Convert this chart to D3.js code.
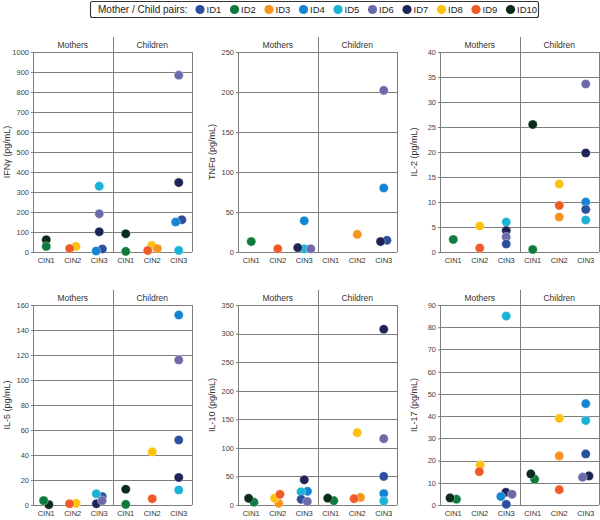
<!DOCTYPE html>
<html>
<head>
<meta charset="utf-8">
<script src="https://cdn.jsdelivr.net/npm/d3@7"></script>
<style>
  body { margin: 0; background: #fff; }
  text { font-family: "Liberation Sans", Arial, sans-serif; }
</style>
</head>
<body>
<div id="chart"></div>
<script>
// --- data ---
var ids = ["ID1", "ID2", "ID3", "ID4", "ID5", "ID6", "ID7", "ID8", "ID9", "ID10"];
var idColors = ["#2b4f9e", "#0e7a3d", "#f7941d", "#1485d2", "#1bb3d5", "#6c6aa8", "#1e2457", "#fdc20f", "#ef5a26", "#0b2b1b"];
var groups = ["Mothers", "Children"];
var stages = ["CIN1", "CIN2", "CIN3"];

// [id, group, stage, value]; within a stage the order only decides who dodges first
var ifng = [
  ["ID10", "Mothers", "CIN1", 61], ["ID2", "Mothers", "CIN1", 28],
  ["ID8", "Mothers", "CIN2", 28], ["ID9", "Mothers", "CIN2", 17],
  ["ID5", "Mothers", "CIN3", 329], ["ID6", "Mothers", "CIN3", 191], ["ID7", "Mothers", "CIN3", 101],
  ["ID1", "Mothers", "CIN3", 15], ["ID4", "Mothers", "CIN3", 5],
  ["ID10", "Children", "CIN1", 91], ["ID2", "Children", "CIN1", 3],
  ["ID8", "Children", "CIN2", 33], ["ID9", "Children", "CIN2", 7], ["ID3", "Children", "CIN2", 17],
  ["ID6", "Children", "CIN3", 884], ["ID7", "Children", "CIN3", 347], ["ID1", "Children", "CIN3", 161],
  ["ID4", "Children", "CIN3", 150], ["ID5", "Children", "CIN3", 8]
];
var tnfa = [
  ["ID2", "Mothers", "CIN1", 13],
  ["ID9", "Mothers", "CIN2", 4],
  ["ID4", "Mothers", "CIN3", 39], ["ID5", "Mothers", "CIN3", 4], ["ID7", "Mothers", "CIN3", 5.4], ["ID6", "Mothers", "CIN3", 4],
  ["ID3", "Children", "CIN2", 22],
  ["ID6", "Children", "CIN3", 202], ["ID4", "Children", "CIN3", 80], ["ID1", "Children", "CIN3", 14.6], ["ID7", "Children", "CIN3", 13]
];
var il2 = [
  ["ID2", "Mothers", "CIN1", 2.5],
  ["ID8", "Mothers", "CIN2", 5.2], ["ID9", "Mothers", "CIN2", 0.8],
  ["ID5", "Mothers", "CIN3", 6.0], ["ID7", "Mothers", "CIN3", 4.3], ["ID6", "Mothers", "CIN3", 3.0], ["ID1", "Mothers", "CIN3", 1.6],
  ["ID10", "Children", "CIN1", 25.5], ["ID2", "Children", "CIN1", 0.5],
  ["ID8", "Children", "CIN2", 13.6], ["ID9", "Children", "CIN2", 9.3], ["ID3", "Children", "CIN2", 7.0],
  ["ID6", "Children", "CIN3", 33.6], ["ID7", "Children", "CIN3", 19.8], ["ID4", "Children", "CIN3", 10.0],
  ["ID1", "Children", "CIN3", 8.5], ["ID5", "Children", "CIN3", 6.4]
];
var il5 = [
  ["ID10", "Mothers", "CIN1", 0.3], ["ID2", "Mothers", "CIN1", 3.5],
  ["ID8", "Mothers", "CIN2", 1.3], ["ID9", "Mothers", "CIN2", 1.0],
  ["ID7", "Mothers", "CIN3", 1.0], ["ID1", "Mothers", "CIN3", 6.7], ["ID5", "Mothers", "CIN3", 9.0], ["ID6", "Mothers", "CIN3", 3.5],
  ["ID10", "Children", "CIN1", 12.6], ["ID2", "Children", "CIN1", 0.5],
  ["ID8", "Children", "CIN2", 42.5], ["ID9", "Children", "CIN2", 5],
  ["ID4", "Children", "CIN3", 152], ["ID6", "Children", "CIN3", 116], ["ID1", "Children", "CIN3", 52],
  ["ID7", "Children", "CIN3", 22], ["ID5", "Children", "CIN3", 12]
];
var il10 = [
  ["ID2", "Mothers", "CIN1", 5], ["ID10", "Mothers", "CIN1", 11.6],
  ["ID3", "Mothers", "CIN2", 3], ["ID8", "Mothers", "CIN2", 12], ["ID9", "Mothers", "CIN2", 18.6],
  ["ID7", "Mothers", "CIN3", 44], ["ID4", "Mothers", "CIN3", 24], ["ID5", "Mothers", "CIN3", 23],
  ["ID1", "Mothers", "CIN3", 10], ["ID6", "Mothers", "CIN3", 6],
  ["ID2", "Children", "CIN1", 7.5], ["ID10", "Children", "CIN1", 12],
  ["ID8", "Children", "CIN2", 126.5], ["ID3", "Children", "CIN2", 13.3], ["ID9", "Children", "CIN2", 11],
  ["ID7", "Children", "CIN3", 307.6], ["ID6", "Children", "CIN3", 116], ["ID1", "Children", "CIN3", 50],
  ["ID4", "Children", "CIN3", 20], ["ID5", "Children", "CIN3", 7]
];
var il17 = [
  ["ID2", "Mothers", "CIN1", 2.6], ["ID10", "Mothers", "CIN1", 3.2],
  ["ID8", "Mothers", "CIN2", 17.9], ["ID9", "Mothers", "CIN2", 15],
  ["ID5", "Mothers", "CIN3", 85], ["ID7", "Mothers", "CIN3", 5.7], ["ID4", "Mothers", "CIN3", 3.8],
  ["ID6", "Mothers", "CIN3", 4.8], ["ID1", "Mothers", "CIN3", 0.3],
  ["ID2", "Children", "CIN1", 11.6], ["ID10", "Children", "CIN1", 14],
  ["ID8", "Children", "CIN2", 39], ["ID3", "Children", "CIN2", 22.1], ["ID9", "Children", "CIN2", 6.9],
  ["ID4", "Children", "CIN3", 45.6], ["ID5", "Children", "CIN3", 38], ["ID1", "Children", "CIN3", 23],
  ["ID7", "Children", "CIN3", 13.1], ["ID6", "Children", "CIN3", 12.5]
];

var ifngTicks = [0, 100, 200, 300, 400, 500, 600, 700, 800, 900, 1000];
var tnfaTicks = [0, 50, 100, 150, 200, 250];
var il2Ticks = [0, 5, 10, 15, 20, 25, 30, 35, 40];
var il5Ticks = [0, 20, 40, 60, 80, 100, 120, 140, 160];
var il10Ticks = [0, 50, 100, 150, 200, 250, 300, 350];
var il17Ticks = [0, 10, 20, 30, 40, 50, 60, 70, 80, 90];

var panels = [
  { label: "IFNγ (pg/mL)", rows: ifng, ticks: ifngTicks, col: 0, row: 0 },
  { label: "TNFα (pg/mL)", rows: tnfa, ticks: tnfaTicks, col: 1, row: 0 },
  { label: "IL-2 (pg/mL)", rows: il2, ticks: il2Ticks, col: 2, row: 0 },
  { label: "IL-5 (pg/mL)", rows: il5, ticks: il5Ticks, col: 0, row: 1 },
  { label: "IL-10 (pg/mL)", rows: il10, ticks: il10Ticks, col: 1, row: 1 },
  { label: "IL-17 (pg/mL)", rows: il17, ticks: il17Ticks, col: 2, row: 1 }
];

// --- layout ---
var width = 600, height = 520;
var colLeft = [33, 238, 440];
var plotW = 159;
var rowTop = [52, 305];
var plotH = 200;
var headerH = 15;
var dotR = 4.6;
var lineColor = "#7d7d7d";

var color = d3.scaleOrdinal(ids, idColors);

var svg = d3.select("#chart").append("svg")
  .attr("width", width)
  .attr("height", height);

svg.append("rect").attr("width", width).attr("height", height).attr("fill", "#fff");

// spread overlapping dots of one stage sideways (simple beeswarm)
function dodge(pts) {
  var minD = 6.5;
  var placed = [];
  pts.forEach(function (p) {
    var sum = d3.sum(placed, function (q) { return q.dx; });
    var pref = sum < 0 ? 1 : -1;
    var best = 0;
    for (var s = 0; s <= 25; s += 0.1) {
      var cands = [pref * s, -pref * s];
      var ok = cands.find(function (c) {
        return placed.every(function (q) { return Math.hypot(c - q.dx, p.py - q.py) >= minD - 1e-6; });
      });
      if (ok !== undefined) { best = ok; break; }
    }
    p.dx = best;
    placed.push(p);
  });
  // recentre each touching cluster
  var comp = placed.map(function (d, i) { return i; });
  function find(i) { return comp[i] == i ? i : (comp[i] = find(comp[i])); }
  for (var i = 0; i < placed.length; i++) {
    for (var j = i + 1; j < placed.length; j++) {
      var a = placed[i], b = placed[j];
      if (Math.hypot(a.dx - b.dx, a.py - b.py) < minD + 0.4) comp[find(i)] = find(j);
    }
  }
  var byComp = d3.group(placed, function (d) { return find(placed.indexOf(d)); });
  byComp.forEach(function (list) {
    if (list.length < 2) return;
    var m = d3.mean(list, function (d) { return d.dx; });
    list.forEach(function (d) { d.dx -= m; });
  });
}

panels.forEach(function (pn) {
  var left = colLeft[pn.col];
  var top = rowTop[pn.row];
  var bottom = top + plotH;
  var right = left + plotW;

  var x = d3.scaleBand(groups, [left, right]);
  var xs = d3.scalePoint(stages, [0, x.bandwidth()]).padding(0.5);
  var y = d3.scaleLinear([0, d3.max(pn.ticks)], [bottom, top]);

  var g = svg.append("g");
  var lines = g.append("g").attr("shape-rendering", "crispEdges");

  // gridlines
  lines.selectAll(".grid").data(pn.ticks).enter().append("line")
    .attr("x1", left).attr("x2", right)
    .attr("y1", function (d) { return Math.round(y(d)) + 0.5; })
    .attr("y2", function (d) { return Math.round(y(d)) + 0.5; })
    .attr("stroke", lineColor).attr("stroke-width", 1);

  // frame and divider
  lines.append("line").attr("x1", left + 0.5).attr("x2", left + 0.5).attr("y1", top).attr("y2", bottom)
    .attr("stroke", lineColor);
  lines.append("line").attr("x1", right + 0.5).attr("x2", right + 0.5).attr("y1", top).attr("y2", bottom)
    .attr("stroke", lineColor);
  lines.append("line").attr("x1", Math.round(x("Children")) + 0.5).attr("x2", Math.round(x("Children")) + 0.5)
    .attr("y1", top - headerH).attr("y2", bottom)
    .attr("stroke", lineColor);

  // y axis
  var yAxis = g.append("g")
    .attr("transform", "translate(" + left + ",0)")
    .call(d3.axisLeft(y).tickValues(pn.ticks).tickFormat(d3.format("d")).tickSize(2).tickPadding(2));
  yAxis.select(".domain").remove();
  yAxis.selectAll(".tick line").attr("stroke", lineColor);
  yAxis.selectAll(".tick text")
    .attr("fill", "#444")
    .style("font-size", "7.5px")
    .style("font-family", "'Liberation Sans', Arial, sans-serif");

  // y label
  g.append("text")
    .attr("transform", "translate(" + (left - 23) + "," + ((top + bottom) / 2) + ") rotate(-90)")
    .attr("text-anchor", "middle")
    .attr("fill", "#333")
    .style("font-size", "9px")
    .text(pn.label);

  // group headers
  g.selectAll(".hdr").data(groups).enter().append("text")
    .attr("x", function (d) { return x(d) + x.bandwidth() / 2; })
    .attr("y", top - 4)
    .attr("text-anchor", "middle")
    .attr("fill", "#333")
    .style("font-size", "8.5px")
    .text(function (d) { return d; });

  // stage labels
  groups.forEach(function (gr) {
    g.selectAll(null).data(stages).enter().append("text")
      .attr("x", function (d) { return x(gr) + xs(d); })
      .attr("y", bottom + 11)
      .attr("text-anchor", "middle")
      .attr("fill", "#333")
      .style("font-size", "7.5px")
      .text(function (d) { return d; });
  });

  // points
  var pts = pn.rows.map(function (r) {
    return { id: r[0], group: r[1], stage: r[2], value: r[3], py: y(r[3]), dx: 0 };
  });
  d3.group(pts, function (d) { return d.group + d.stage; }).forEach(dodge);

  g.selectAll(".dot").data(pts).enter().append("circle")
    .attr("cx", function (d) { return x(d.group) + xs(d.stage) + d.dx; })
    .attr("cy", function (d) { return d.py; })
    .attr("r", dotR)
    .attr("fill", function (d) { return color(d.id); })
    .attr("stroke", "#fff")
    .attr("stroke-opacity", 0.6)
    .attr("stroke-width", 0.6);
});

// legend
var legend = svg.append("g");
legend.append("rect")
  .attr("x", 90.5).attr("y", 1.5)
  .attr("width", 448).attr("height", 16)
  .attr("rx", 2)
  .attr("fill", "#fff")
  .attr("stroke", "#333")
  .attr("stroke-width", 1.1);
legend.append("text")
  .attr("x", 98).attr("y", 13)
  .attr("fill", "#222")
  .style("font-size", "10px")
  .text("Mother / Child pairs:");
var item = legend.selectAll(".item").data(ids).enter().append("g")
  .attr("transform", function (d, i) { return "translate(" + (200 + i * 34.5) + ",9.5)"; });
item.append("circle")
  .attr("r", 4.6)
  .attr("fill", function (d) { return color(d); });
item.append("text")
  .attr("x", 6.5).attr("y", 3.5)
  .attr("fill", "#222")
  .style("font-size", "9.5px")
  .text(function (d) { return d; });
</script>
</body>
</html>
